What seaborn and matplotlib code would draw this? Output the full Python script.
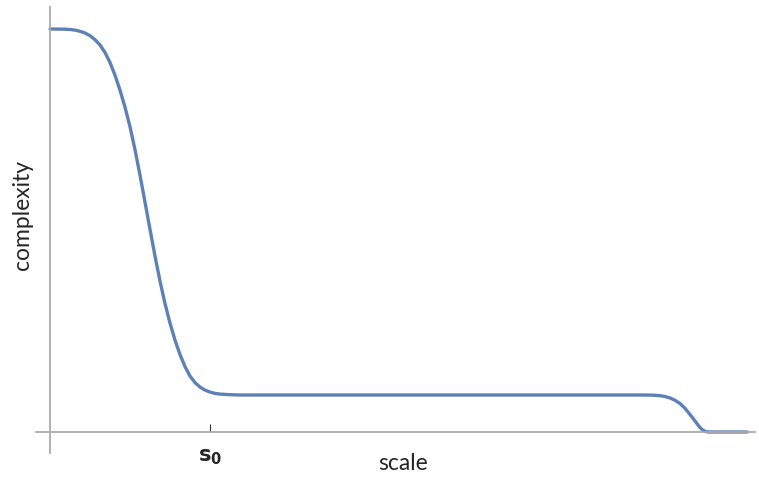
import numpy as np
import pandas as pd
import matplotlib
matplotlib.use("Agg")
import matplotlib.pyplot as plt
import seaborn as sns

# values (x = scale, y = complexity)
scale = [0.00, 0.10, 0.15, 0.20, 0.25, 0.30, 0.35, 0.40, 0.45, 0.50, 0.55,
         0.60, 0.65, 0.70, 0.75, 0.80, 0.85, 0.90, 0.95, 1.00, 1.05, 1.10,
         1.15, 1.20, 1.25, 1.30, 1.35, 1.40, 1.45, 1.50, 1.55, 1.60, 1.65,
         1.70, 1.80, 1.90, 3.00, 4.50, 5.90, 6.00, 6.05, 6.10, 6.15, 6.20,
         6.25, 6.30, 6.35, 6.40, 6.45, 6.48, 6.50, 6.53, 6.56, 6.60, 6.97]
complexity = [4.030, 4.029, 4.028, 4.025, 4.019, 4.007, 3.990, 3.963, 3.923,
              3.870, 3.795, 3.695, 3.568, 3.418, 3.248, 3.053, 2.823, 2.568,
              2.298, 2.026, 1.759, 1.509, 1.284, 1.089, 0.919, 0.774, 0.654,
              0.559, 0.494, 0.449, 0.419, 0.399, 0.386, 0.379, 0.373, 0.370,
              0.370, 0.370, 0.370, 0.369, 0.367, 0.363, 0.355, 0.340, 0.317,
              0.285, 0.237, 0.175, 0.110, 0.070, 0.045, 0.017, 0.003, 0.000,
              0.000]
tick_pos = [1.60]
tick_labels = [r"$\mathbf{s}_\mathbf{0}$"]

df = pd.DataFrame({"scale": scale, "complexity": complexity})

sns.set_style("white")
plt.rcParams["font.family"] = ["Lato", "DejaVu Sans"]
plt.rcParams["mathtext.fontset"] = "dejavusans"

fig = plt.figure(figsize=(7.59, 4.88), dpi=100)
ax = fig.add_axes([0, 0, 1, 1])
sns.lineplot(data=df, x="scale", y="complexity", ax=ax,
             color="#5E81B5", linewidth=2.4)

ax.set_xlim(-0.50, 7.09)
ax.set_ylim(-0.56, 4.32)

for side in ["top", "right"]:
    ax.spines[side].set_visible(False)
ax.spines["left"].set_position(("data", 0))
ax.spines["bottom"].set_position(("data", 0))
ax.spines["left"].set_bounds(-0.21, 4.25)
ax.spines["bottom"].set_bounds(-0.14, 7.05)
for side in ["left", "bottom"]:
    ax.spines[side].set_color("#aaaaaa")
    ax.spines[side].set_linewidth(1.3)

ax.set_yticks([])
ax.set_xticks(tick_pos)
ax.set_xticklabels(tick_labels, fontsize=15)
# seaborn's white style switches tick marks off, turn the s0 tick back on
ax.tick_params(axis="x", bottom=True, direction="in", length=6, width=0.8,
               color="#333333", pad=11)

ax.set_xlabel("scale", fontsize=16.5)
ax.set_ylabel("complexity", fontsize=16.5)
ax.xaxis.set_label_coords(403 / 759, 1 - 464 / 488)
ax.yaxis.set_label_coords(22 / 759, 1 - 215 / 488)
ax.xaxis.label.set_va("center")
ax.yaxis.label.set_va("center")

fig.savefig("out.png", dpi=100)
